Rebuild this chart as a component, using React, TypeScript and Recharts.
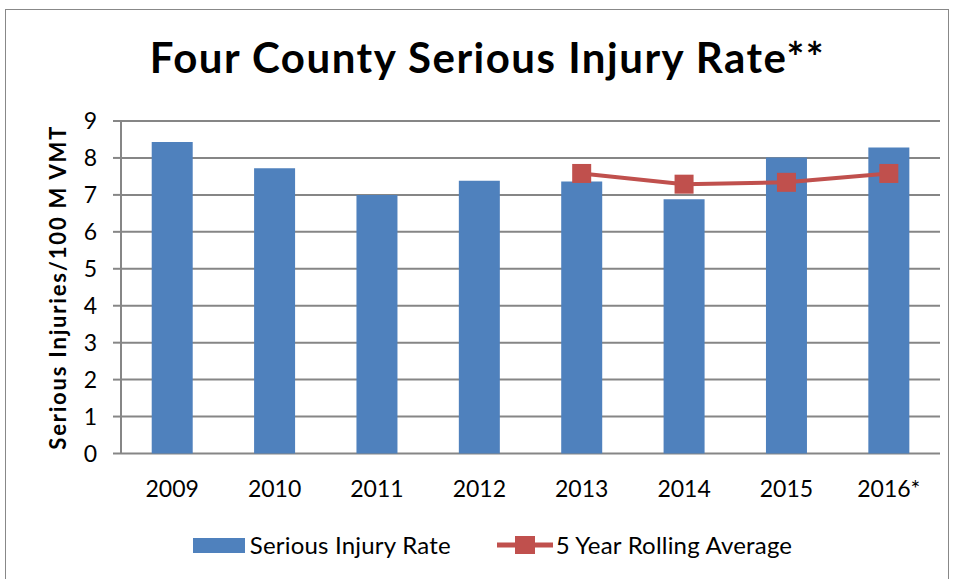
import React from 'react';
import { ComposedChart, Bar, Line, XAxis, YAxis, CartesianGrid } from 'recharts';

const years = ['2009', '2010', '2011', '2012', '2013', '2014', '2015', '2016*'];
const injuryRate = [8.43, 7.72, 7.0, 7.38, 7.36, 6.88, 8.01, 8.28];
const rollingAvg: (number | null)[] = [null, null, null, null, 7.58, 7.29, 7.34, 7.58];
const yTicks = [0, 1, 2, 3, 4, 5, 6, 7, 8, 9];
const boundaryTicks = [0, 1, 2, 3, 4, 5, 6, 7, 8];
const seriesNames = ['Serious Injury Rate', '5 Year Rolling Average'];

const data = years.map((y, i) => ({ year: y, rate: injuryRate[i], avg: rollingAvg[i] }));

const FONT = 'Lato, "Open Sans", sans-serif';
const BLUE = '#4F81BD';
const RED = '#C0504D';
const GRID = '#868686';

const SquareDot = (props: any) => {
  const { cx, cy, value } = props;
  if (value == null || cx == null || cy == null) return <g />;
  return <rect x={cx - 9.5} y={cy - 9.5} width={19} height={19} fill={RED} />;
};

const LegendBlock = () => (
  <div style={{ position: 'absolute', top: 531, left: 0, width: 985, display: 'flex', justifyContent: 'center', alignItems: 'center', fontFamily: FONT, fontSize: 24, letterSpacing: 0.2, color: '#000', lineHeight: '28px' }}>
    <div style={{ display: 'flex', alignItems: 'center', marginRight: 46 }}>
      <div style={{ width: 52, height: 15, background: BLUE, marginRight: 5 }} />
      <span>{seriesNames[0]}</span>
    </div>
    <div style={{ display: 'flex', alignItems: 'center' }}>
      <svg width={56} height={20} style={{ marginRight: 3 }}>
        <line x1={0} y1={10} x2={56} y2={10} stroke={RED} strokeWidth={5} />
        <rect x={18} y={1} width={20} height={18} fill={RED} />
      </svg>
      <span>{seriesNames[1]}</span>
    </div>
  </div>
);

export default function App() {
  return (
    <div style={{ position: 'absolute', left: 0, top: 0, width: 956, height: 579, background: '#fff' }}>
      <div style={{ position: 'absolute', left: 5, top: 9, width: 944, height: 572, border: '1px solid #888', boxSizing: 'border-box' }} />
      <div style={{ position: 'absolute', left: 0, top: 32, width: 975, textAlign: 'center', fontFamily: FONT, fontWeight: 700, fontSize: 42, letterSpacing: 1.5, color: '#000', lineHeight: 'normal' }}>
        Four County Serious Injury Rate**
      </div>
      <div style={{ position: 'absolute', left: 0, top: 0 }}>
        <ComposedChart width={956} height={579} data={data} margin={{ top: 121, right: 16, bottom: 79.5, left: 0 }} barCategoryGap="30%">
          <CartesianGrid horizontal vertical={false} stroke={GRID} strokeWidth={2} />
          <XAxis
            xAxisId="b"
            type="number"
            domain={[0, 8]}
            ticks={boundaryTicks}
            allowDataOverflow
            height={0}
            axisLine={{ stroke: GRID, strokeWidth: 2 }}
            tickLine={{ stroke: GRID, strokeWidth: 2 }}
            tickSize={8}
            tickFormatter={() => ''}
          />
          <XAxis
            xAxisId="c"
            dataKey="year"
            height={46}
            axisLine={false}
            tickLine={false}
            tickMargin={21}
            tick={{ fill: '#000', fontSize: 23, fontFamily: FONT }}
          />
          <YAxis
            width={121}
            domain={[0, 9]}
            ticks={yTicks}
            interval={0}
            axisLine={{ stroke: GRID, strokeWidth: 2 }}
            tickLine={{ stroke: GRID, strokeWidth: 2 }}
            tickSize={8}
            tickMargin={16}
            tick={{ fill: '#000', fontSize: 23, fontFamily: FONT }}
            label={{
              value: 'Serious Injuries/100 M VMT',
              angle: -90,
              position: 'insideLeft',
              offset: 58,
              dy: 0,
              style: { textAnchor: 'middle', fill: '#000', fontSize: 22, fontWeight: 700, fontFamily: FONT, letterSpacing: 1.8 },
            }}
          />
          <Bar xAxisId="c" dataKey="rate" name={seriesNames[0]} fill={BLUE} isAnimationActive={false} />
          <Line
            xAxisId="c"
            dataKey="avg"
            name={seriesNames[1]}
            stroke={RED}
            strokeWidth={4}
            dot={<SquareDot />}
            activeDot={false}
            connectNulls={false}
            isAnimationActive={false}
          />
        </ComposedChart>
      </div>
      <LegendBlock />
    </div>
  );
}
